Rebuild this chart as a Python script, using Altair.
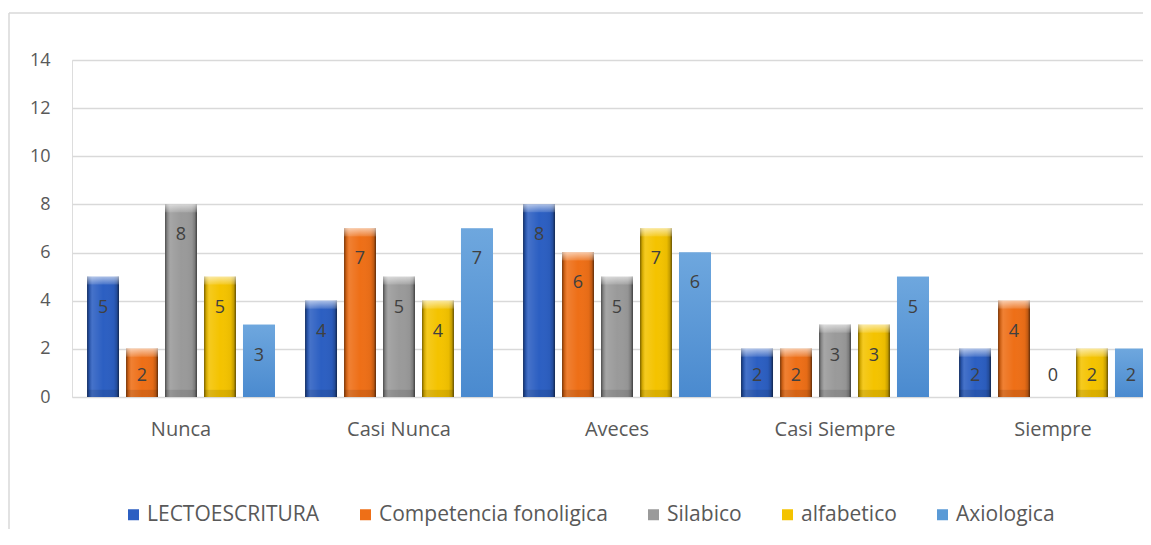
import altair as alt
import pandas as pd

categories = ["Nunca", "Casi Nunca", "Aveces", "Casi Siempre", "Siempre"]
series = ["LECTOESCRITURA", "Competencia fonoligica", "Silabico", "alfabetico", "Axiologica"]
lectoescritura = [5, 4, 8, 2, 2]
competencia = [2, 7, 6, 2, 4]
silabico = [8, 5, 5, 3, 0]
alfabetico = [5, 4, 7, 3, 2]
axiologica = [3, 7, 6, 5, 2]
colors = ["#2C5FC2", "#EE6F17", "#9A9A9A", "#F4C300", "#5A9AD6"]

values_by_series = [lectoescritura, competencia, silabico, alfabetico, axiologica]
rows = []
for s, vals in zip(series, values_by_series):
    for c, v in zip(categories, vals):
        rows.append({"cat": c, "serie": s, "valor": v})
df = pd.DataFrame(rows)

FONT = "Open Sans"
TXT = "#595959"

x_enc = alt.X("cat:N", sort=categories, title=None,
              scale=alt.Scale(paddingInner=0.138, paddingOuter=0.069),
              axis=alt.Axis(labelAngle=0, domain=False, ticks=False, labelPadding=22,
                            labelFontSize=20, labelColor=TXT, labelFont=FONT))
xo_enc = alt.XOffset("serie:N", sort=series,
                     scale=alt.Scale(domain=series, paddingInner=0.18, paddingOuter=0))
y_scale = alt.Scale(domain=[0, 14], nice=False)

base = alt.Chart(df)

bars = base.mark_bar().encode(
    x=x_enc, xOffset=xo_enc,
    y=alt.Y("valor:Q", scale=y_scale, title=None,
            axis=alt.Axis(values=list(range(0, 15, 2)), domain=False, ticks=False,
                          labelPadding=22, labelFontSize=18, labelColor=TXT, labelFont=FONT,
                          grid=True, gridColor="#D9D9D9", gridWidth=1.5)),
    color=alt.Color("serie:N", sort=series, title=None,
                    scale=alt.Scale(domain=series, range=colors),
                    legend=alt.Legend(orient="none", legendX=51, legendY=444, direction="horizontal",
                                      columns=5, symbolType="square", symbolSize=121,
                                      symbolStrokeWidth=0, labelFontSize=21, labelFont=FONT,
                                      labelColor=TXT, columnPadding=35, labelOffset=3,
                                      labelLimit=0, padding=0)),
)

bevel_h = {
    "gradient": "linear", "x1": 0, "x2": 1, "y1": 0, "y2": 0,
    "stops": [
        {"offset": 0, "color": "rgba(0,0,0,0.5)"},
        {"offset": 0.07, "color": "rgba(0,0,0,0.15)"},
        {"offset": 0.16, "color": "rgba(255,255,255,0.12)"},
        {"offset": 0.5, "color": "rgba(255,255,255,0.0)"},
        {"offset": 0.84, "color": "rgba(0,0,0,0.04)"},
        {"offset": 0.93, "color": "rgba(0,0,0,0.2)"},
        {"offset": 1, "color": "rgba(0,0,0,0.6)"},
    ],
}
bevel_top = {
    "gradient": "linear", "x1": 0, "x2": 0, "y1": 0, "y2": 1,
    "stops": [
        {"offset": 0, "color": "rgba(255,255,255,0.6)"},
        {"offset": 1, "color": "rgba(255,255,255,0.12)"},
    ],
}
axio_fill = {
    "gradient": "linear", "x1": 0, "x2": 0, "y1": 0, "y2": 1,
    "stops": [
        {"offset": 0, "color": "#6EA7DE"},
        {"offset": 1, "color": "#4A8ACF"},
    ],
}

bevel = base.transform_filter(
    (alt.datum.serie != "Axiologica") & (alt.datum.valor > 0)
).mark_bar(fill=bevel_h).encode(
    x=x_enc, xOffset=xo_enc, y=alt.Y("valor:Q", scale=y_scale)
)

top = base.transform_filter(
    (alt.datum.serie != "Axiologica") & (alt.datum.valor > 0)
).transform_calculate(
    ytop="datum.valor - 0.33"
).mark_bar(fill=bevel_top).encode(
    x=x_enc, xOffset=xo_enc, y=alt.Y("valor:Q", scale=y_scale), y2="ytop:Q"
)

bottom = base.transform_filter(
    (alt.datum.serie != "Axiologica") & (alt.datum.valor > 0)
).transform_calculate(
    ybot="0.3"
).mark_bar(fill="rgba(0,0,0,0.1)").encode(
    x=x_enc, xOffset=xo_enc, y=alt.Y("ybot:Q", scale=y_scale), y2=alt.Y2(datum=0)
)

axio = base.transform_filter(alt.datum.serie == "Axiologica").mark_bar(fill=axio_fill).encode(
    x=x_enc, xOffset=xo_enc, y=alt.Y("valor:Q", scale=y_scale)
)

labels = base.transform_calculate(
    ylab="max(datum.valor - 1.16, 1.0)"
).mark_text(font=FONT, fontSize=18, color="#404040", baseline="middle", dy=3).encode(
    x=x_enc, xOffset=xo_enc, y=alt.Y("ylab:Q", scale=y_scale), text="valor:Q"
)

frame_left = alt.Chart(pd.DataFrame({"k": [0]})).mark_rule(color="#D9D9D9", strokeWidth=1.5).encode(
    x=alt.value(-63), y=alt.value(-47), y2=alt.value(700)
)
frame_top = alt.Chart(pd.DataFrame({"k": [0]})).mark_rule(color="#D9D9D9", strokeWidth=1.5).encode(
    x=alt.value(-63), x2=alt.value(1200), y=alt.value(-47)
)

chart = alt.layer(bars, bevel, top, bottom, axio, labels, frame_left, frame_top).properties(
    width=1090, height=337,
    padding={"left": 64, "top": 52, "right": -19, "bottom": 132},
    autosize=alt.AutoSizeParams(type="none"),
).configure_view(stroke=None).configure(background="white")

chart.save("out.html", embed_options={"renderer": "svg", "actions": False})
